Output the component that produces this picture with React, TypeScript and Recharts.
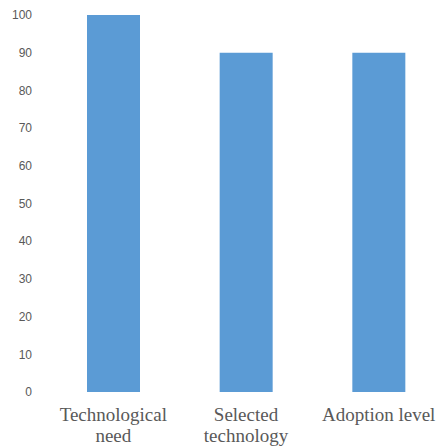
import { BarChart, Bar, XAxis, YAxis } from 'recharts'

const categories = ['Technological need', 'Selected technology', 'Adoption level']
const labelLines = [['Technological', 'need'], ['Selected', 'technology'], ['Adoption level']]
const values = [100, 90, 90]
const yTicks = [0, 10, 20, 30, 40, 50, 60, 70, 80, 90, 100]

const data = categories.map((name, i) => ({ name, value: values[i] }))

function CategoryTick(props: any) {
    const { x, y, index } = props
    const lines = labelLines[index] || [String(props.payload.value)]
    return (
        <g>
            {lines.map((line: string, i: number) => (
                <text
                    key={i}
                    x={x}
                    y={y + 21 + i * 20.5}
                    textAnchor="middle"
                    fill="#595959"
                    fontSize={19}
                    fontFamily="'Liberation Serif', serif"
                >
                    {line}
                </text>
            ))}
        </g>
    )
}

export default function App() {
    return (
        <div style={{ position: 'absolute', left: 0, top: 0, width: 436, height: 446, overflow: 'hidden', background: '#fff' }}>
            <BarChart
                width={436}
                height={446}
                data={data}
                margin={{ top: 15, right: 0, left: 0, bottom: 0 }}
            >
                <XAxis
                    dataKey="name"
                    height={54}
                    axisLine={false}
                    tickLine={false}
                    interval={0}
                    padding={{ left: 0, right: -9 }}
                    tick={<CategoryTick />}
                />
                <YAxis
                    width={47}
                    domain={[0, 100]}
                    ticks={yTicks}
                    axisLine={false}
                    tickLine={false}
                    tickMargin={9}
                    tick={{ fill: '#595959', fontSize: 12, fontFamily: "'Liberation Sans', sans-serif" }}
                />
                <Bar dataKey="value" fill="#5B9BD5" barSize={53} isAnimationActive={false} />
            </BarChart>
        </div>
    )
}
